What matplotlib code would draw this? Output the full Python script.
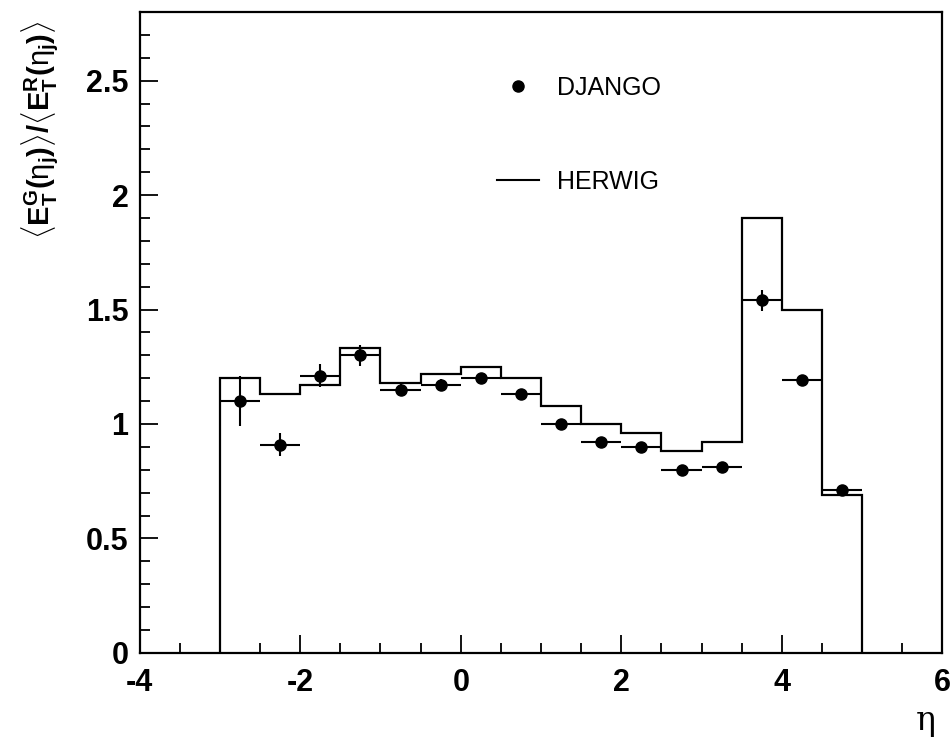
import numpy as np
import matplotlib
matplotlib.use("Agg")
import matplotlib.pyplot as plt
from matplotlib.lines import Line2D
from matplotlib.ticker import MultipleLocator

plt.rcParams['font.family'] = ['Liberation Sans', 'DejaVu Sans']
plt.rcParams['axes.unicode_minus'] = False
plt.rcParams['mathtext.fontset'] = 'custom'
plt.rcParams['mathtext.rm'] = 'Liberation Sans'
plt.rcParams['mathtext.bf'] = 'Liberation Sans:bold'
plt.rcParams['mathtext.it'] = 'Liberation Sans:italic'

# HERWIG histogram (bin edges and contents)
bin_edges = [-3.0, -2.5, -2.0, -1.5, -1.0, -0.5, 0.0, 0.5, 1.0,
             1.5, 2.0, 2.5, 3.0, 3.5, 4.0, 4.5, 5.0]
herwig = [1.20, 1.13, 1.17, 1.33, 1.18, 1.22, 1.25, 1.20,
          1.08, 1.00, 0.96, 0.88, 0.92, 1.90, 1.50, 0.69]

# DJANGO points
django_eta = [-2.75, -2.25, -1.75, -1.25, -0.75, -0.25, 0.25, 0.75,
              1.25, 1.75, 2.25, 2.75, 3.25, 3.75, 4.25, 4.75]
django = [1.10, 0.91, 1.21, 1.30, 1.15, 1.17, 1.20, 1.13,
          1.00, 0.92, 0.90, 0.80, 0.81, 1.54, 1.19, 0.71]
django_yerr = [0.11, 0.05, 0.05, 0.045, 0.025, 0.025, 0.02, 0.02,
               0.02, 0.02, 0.02, 0.02, 0.02, 0.045, 0.02, 0.02]
django_xerr = 0.25

fig = plt.figure(figsize=(9.5, 7.47), dpi=100)
ax = fig.add_axes([0.147, 0.126, 0.845, 0.858])

ax.stairs(herwig, bin_edges, baseline=0, color='black', lw=1.6)
ax.errorbar(django_eta, django, xerr=django_xerr, yerr=django_yerr,
            fmt='o', color='black', ms=8, elinewidth=1.5, capsize=0)

ax.set_xlim(-4, 6)
ax.set_ylim(0, 2.8)
ax.xaxis.set_major_locator(MultipleLocator(2))
ax.xaxis.set_minor_locator(MultipleLocator(0.5))
ax.yaxis.set_minor_locator(MultipleLocator(0.1))
ax.set_yticks([0, 0.5, 1, 1.5, 2, 2.5])
ax.set_yticklabels(['0', '0.5', '1', '1.5', '2', '2.5'])
ax.tick_params(which='both', direction='in', top=False, right=False, width=1.3)
ax.tick_params(which='major', length=13, labelsize=22)
ax.tick_params(which='minor', length=7)
ax.tick_params(axis='x', pad=11)
ax.tick_params(axis='y', pad=8)
for lab in ax.get_xticklabels() + ax.get_yticklabels():
    lab.set_fontweight('bold')
for s in ax.spines.values():
    s.set_linewidth(1.6)

fig.text(0.042, 0.826,
         r'$\mathbf{\langle E_T^G(}\mathrm{\eta}_\mathbf{j}\mathbf{)\rangle/\langle E_T^R(}\mathrm{\eta}_\mathbf{j}\mathbf{)\rangle}$',
         rotation=90, ha='center', va='center', fontsize=21)
fig.text(0.974, 0.035, 'η', ha='center', va='center', fontsize=24,
         family='DejaVu Serif')

handles = [Line2D([], [], ls='none', marker='o', ms=8, color='black'),
           Line2D([], [], color='black', lw=1.5)]
ax.legend(handles, ['DJANGO', 'HERWIG'], loc='upper left',
          bbox_to_anchor=(0.445, 0.90), frameon=False, fontsize=18,
          handlelength=1.7, handletextpad=0.7, labelspacing=2.8,
          borderpad=0, borderaxespad=0)

fig.savefig('out.png', dpi=100)
